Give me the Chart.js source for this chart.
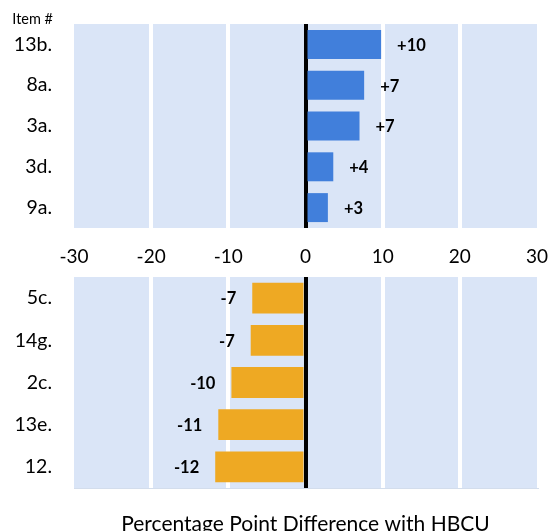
<!DOCTYPE html>
<html>
<head>
<meta charset="utf-8">
<script src="https://cdn.jsdelivr.net/npm/chart.js@4"></script>
<style>
  body{margin:0;background:#fff;}
  #wrap{position:relative;width:551px;height:531px;}
  #top{position:absolute;left:0;top:0;}
  #bottom{position:absolute;left:0;top:270px;}
</style>
</head>
<body>
<div id="wrap">
  <canvas id="top" width="551" height="270"></canvas>
  <canvas id="bottom" width="551" height="261"></canvas>
</div>
<script>
// items where the difference is positive
const topItems=['13b.','8a.','3a.','3d.','9a.']
const topValues=[9.8,7.6,7.0,3.6,2.9]
const topLabels=['+10','+7','+7','+4','+3']

// items where the difference is negative
const bottomItems=['5c.','14g.','2c.','13e.','12.']
const bottomValues=[-6.9,-7.1,-9.6,-11.3,-11.7]
const bottomLabels=['-7','-7','-10','-11','-12']

const xTicks=[-30,-20,-10,0,10,20,30]
const xTitle='Percentage Point Difference with HBCU'
const itemHeader='Item #'

const FONT='Lato, "Open Sans", sans-serif'
const plotFill='#dae5f7'

// fill the plot area and draw the zero line over the bars, then the labels
const plotPlugin={
  id:'plotPlugin',
  beforeDraw(chart){
    const a=chart.chartArea, ctx=chart.ctx
    ctx.save()
    ctx.fillStyle=plotFill
    ctx.fillRect(a.left,a.top,a.right-a.left,a.bottom-a.top)
    ctx.restore()
  },
  afterDatasetsDraw(chart){
    const ctx=chart.ctx, a=chart.chartArea
    const x0=chart.scales.x.getPixelForValue(0)
    ctx.save()
    ctx.strokeStyle='#000'
    ctx.lineWidth=2.5
    ctx.beginPath()
    ctx.moveTo(x0,a.top)
    ctx.lineTo(x0,a.bottom)
    ctx.stroke()
    const texts=chart.options.plugins.plotPlugin.texts
    ctx.font='bold 16.5px '+FONT
    ctx.fillStyle='#000'
    ctx.textBaseline='middle'
    chart.getDatasetMeta(0).data.forEach((bar,i)=>{
      const v=chart.data.datasets[0].data[i]
      if(v>=0){
        ctx.textAlign='left'
        ctx.fillText(texts[i],bar.x+16,bar.y+1)
      }else{
        ctx.textAlign='right'
        ctx.fillText(texts[i],bar.x-16,bar.y+1)
      }
    })
    if(chart.options.plugins.plotPlugin.header){
      const y=chart.scales.y
      ctx.font='14.5px '+FONT
      ctx.textAlign='right'
      ctx.fillText(chart.options.plugins.plotPlugin.header,y.right-21,a.top-5)
    }
    ctx.restore()
  }
}

function gridColor(c){
  const v=c.tick ? c.tick.value : null
  if(v===0) return '#000'
  if(v===-30 || v===30) return 'rgba(0,0,0,0)'
  return '#ffffff'
}

function makeChart(id,items,values,texts,color,thick,opts){
  return new Chart(document.getElementById(id),{
    type:'bar',
    data:{
      labels:items,
      datasets:[{
        data:values,
        backgroundColor:color,
        borderWidth:0,
        barPercentage:thick,
        categoryPercentage:1
      }]
    },
    plugins:[plotPlugin],
    options:{
      indexAxis:'y',
      responsive:false,
      animation:false,
      layout:{padding:opts.padding},
      plugins:{
        legend:{display:false},
        tooltip:{enabled:false},
        plotPlugin:{texts:texts,header:opts.header}
      },
      scales:{
        x:{
          min:-30,max:30,
          afterBuildTicks(s){ s.ticks=xTicks.map(v=>({value:v})) },
          afterFit(s){ s.height=opts.xHeight; s.paddingLeft=0; s.paddingRight=0 },
          grid:{color:gridColor,lineWidth:4,drawTicks:false},
          border:opts.border,
          ticks:{display:opts.showTicks,color:'#000',font:{family:FONT,size:19},padding:17,maxRotation:0},
          title:opts.title
        },
        y:{
          afterFit(s){ s.width=74; s.paddingTop=0; s.paddingBottom=0 },
          grid:{display:false,drawTicks:false},
          border:{display:false},
          ticks:{color:'#000',font:{family:FONT,size:19.5},padding:22}
        }
      }
    }
  })
}

makeChart('top',topItems,topValues,topLabels,'#417fdb',0.71,{
  padding:{left:0,right:14,top:24,bottom:0},
  xHeight:42,
  showTicks:true,
  border:{display:false},
  title:{display:false},
  header:itemHeader
})

makeChart('bottom',bottomItems,bottomValues,bottomLabels,'#eea923',0.73,{
  padding:{left:0,right:14,top:7,bottom:0},
  xHeight:43,
  showTicks:false,
  border:{display:true,color:'#d3ddec',width:1},
  title:{display:true,text:xTitle,color:'#000',font:{family:FONT,size:21},padding:{top:20,bottom:-6}},
  header:null
})
</script>
</body>
</html>
